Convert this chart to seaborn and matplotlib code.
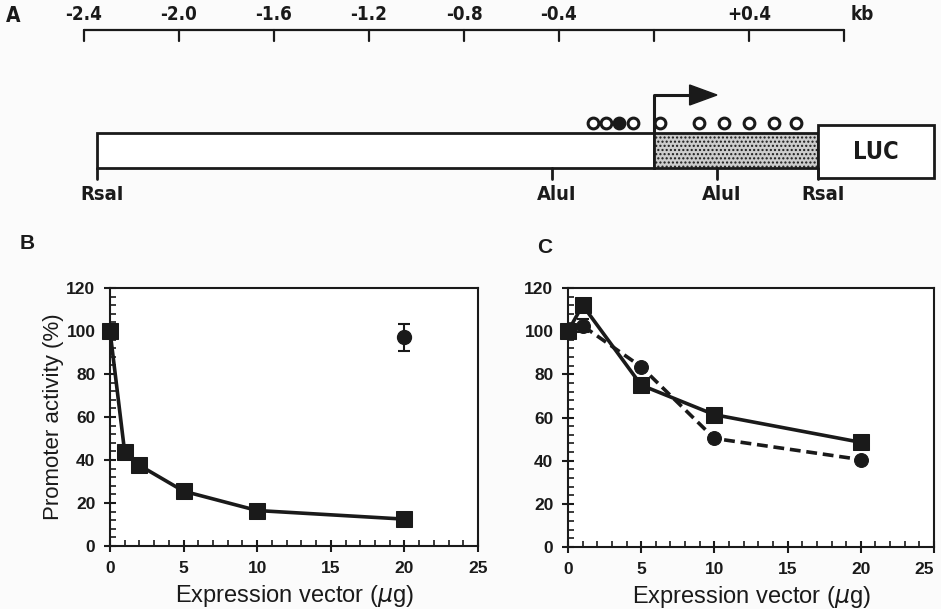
import numpy as np
import pandas as pd
import matplotlib
matplotlib.use("Agg")
import matplotlib.pyplot as plt
import seaborn as sns
from matplotlib.ticker import MultipleLocator

# ---- panel A: construct map (positions in kb relative to start site)
scale_ticks = [-2.4, -2.0, -1.6, -1.2, -0.8, -0.4, 0.0, 0.4, 0.8]
scale_labels = ["-2.4", "-2.0", "-1.6", "-1.2", "-0.8", "-0.4", "", "+0.4", ""]
construct_start = -2.345
transcribed_end = 0.69
luc_end = 1.18
site_pos = [-2.345, -0.43, 0.265, 0.69]
site_names = ["RsaI", "AluI", "AluI", "RsaI"]
open_circles = [-0.257, -0.202, -0.088, 0.025, 0.19, 0.295, 0.40, 0.505, 0.60]
filled_circles = [-0.147]

# ---- panel B
b_dose = [0, 1, 2, 5, 10, 20]
b_activity = [100, 43.5, 37.5, 25.5, 16.5, 12.5]
b_ctrl_dose = [20]
b_ctrl_activity = [97]
b_ctrl_err = [6.3]

# ---- panel C
c_dose = [0, 1, 5, 10, 20]
c_squares = [100, 112, 75, 61.3, 48.5]
c_circles = [100, 102.5, 83.5, 50.3, 40.5]
c_circle_err = [0, 3, 0, 0, 0]

x_ticks = [0, 5, 10, 15, 20, 25]
y_ticks = [0, 20, 40, 60, 80, 100, 120]

W, H = 941, 609
sns.set_theme(style="ticks")
plt.rcParams['font.family'] = ['Liberation Sans', 'DejaVu Sans']
fig = plt.figure(figsize=(W / 100, H / 100), dpi=100)
fig.patch.set_facecolor("#fbfbfb")


def rect(l, t, r, b):
    return [l / W, 1 - b / H, (r - l) / W, (b - t) / H]


narrow = dict(family=['DejaVu Sans', 'Liberation Sans'], stretch="condensed",
              fontweight="bold")
ink = "#1a1a1a"

# panel A
ax_a = fig.add_axes([0, 1 - 215 / H, 1, 215 / H])
ax_a.set_xlim(-654 / 237.5, 287 / 237.5)
ax_a.set_ylim(215, 0)
ax_a.axis("off")
ax_a.plot([scale_ticks[0], scale_ticks[-1]], [30, 30], color=ink, lw=1.6)
for t, lab in zip(scale_ticks, scale_labels):
    ax_a.plot([t, t], [30, 41], color=ink, lw=1.6)
    if lab:
        ax_a.text(t, 15, lab, ha="center", va="center", fontsize=13.5,
                  color=ink, **narrow)
ax_a.text(scale_ticks[-1] + 0.03, 15, "kb", ha="left", va="center", fontsize=13.5,
          color=ink, **narrow)
ax_a.text(-2.70, 16, "A", ha="center", va="center", fontsize=15,
          color=ink, **narrow)

ax_a.add_patch(plt.Rectangle((construct_start, 133), 0 - construct_start, 35,
                             facecolor="white", edgecolor=ink, lw=2))
ax_a.add_patch(plt.Rectangle((0, 133), transcribed_end, 35,
                             facecolor="#cccccc", edgecolor=ink, lw=2, hatch="...."))
ax_a.add_patch(plt.Rectangle((transcribed_end, 125), luc_end - transcribed_end, 53,
                             facecolor="white", edgecolor=ink, lw=2))
ax_a.text((transcribed_end + luc_end) / 2, 152, "LUC", ha="center", va="center",
          fontsize=17, color=ink, **narrow)

# start site arrow
ax_a.plot([0, 0, 0.16], [133, 95, 95], color=ink, lw=2.2)
ax_a.fill([0.15, 0.15, 0.265], [85, 105, 95], color=ink)

ax_a.scatter(open_circles, [123] * len(open_circles), s=60, facecolor="white",
             edgecolor=ink, linewidths=2.2, zorder=3)
ax_a.scatter(filled_circles, [123] * len(filled_circles), s=60, facecolor=ink,
             edgecolor=ink, linewidths=2.2, zorder=4)

for p, name in zip(site_pos, site_names):
    ax_a.plot([p, p], [168, 179], color=ink, lw=2)
    ax_a.text(p + 0.02, 195, name, ha="center", va="center", fontsize=14.5,
              color=ink, **narrow)


def style_axis(ax):
    ax.set_xlim(0, 25)
    ax.set_ylim(0, 120)
    ax.set_xticks(x_ticks)
    ax.set_xticklabels([str(v) for v in x_ticks])
    ax.set_yticks(y_ticks)
    ax.set_yticklabels([str(v) for v in y_ticks])
    ax.xaxis.set_minor_locator(MultipleLocator(1))
    ax.yaxis.set_minor_locator(MultipleLocator(4))
    ax.tick_params(which="major", direction="inout", length=9, width=1.5,
                   labelsize=12.5, colors=ink, pad=6)
    ax.tick_params(which="minor", direction="in", length=4, width=1.2, colors=ink)
    for lab in ax.get_xticklabels() + ax.get_yticklabels():
        lab.set_fontweight("bold")
    for s in ax.spines.values():
        s.set_linewidth(1.5)
        s.set_color(ink)
    ax.set_facecolor("white")
    ax.set_xlabel("Expression vector ($\\mu$g)", fontsize=17, color=ink, labelpad=5)


# panel B
ax_b = fig.add_axes(rect(110, 288, 478, 546))
df_b = pd.DataFrame({"dose": b_dose, "activity": b_activity})
sns.lineplot(data=df_b, x="dose", y="activity", ax=ax_b, color=ink, lw=2.6,
             marker="s", markersize=11, markeredgecolor=ink, clip_on=False)
ax_b.errorbar(b_ctrl_dose, b_ctrl_activity, yerr=b_ctrl_err, fmt="o", color=ink,
              markersize=10, capsize=4, elinewidth=1.5, capthick=1.5)
style_axis(ax_b)
ax_b.set_ylabel("Promoter activity (%)", fontsize=16, color=ink, labelpad=2)
fig.text(20 / W, 1 - 243 / H, "B", fontsize=15, fontweight="bold", color=ink,
         va="center")

# panel C
ax_c = fig.add_axes(rect(568, 288, 934, 547))
df_c = pd.DataFrame({"dose": c_dose, "sq": c_squares, "ci": c_circles})
ax_c.errorbar(c_dose, c_circles, yerr=c_circle_err, fmt="none", color=ink,
              capsize=4, elinewidth=1.5, capthick=1.5)
sns.lineplot(data=df_c, x="dose", y="ci", ax=ax_c, color=ink, lw=2.6,
             marker="o", markersize=10, markeredgecolor=ink, dashes=False,
             linestyle=(0, (3, 1.6)), clip_on=False)
sns.lineplot(data=df_c, x="dose", y="sq", ax=ax_c, color=ink, lw=2.6,
             marker="s", markersize=11, markeredgecolor=ink, clip_on=False)
style_axis(ax_c)
ax_c.set_ylabel("")
ax_c.get_xticklabels()[-1].set_horizontalalignment("right")
fig.text(537 / W, 1 - 247 / H, "C", fontsize=15, fontweight="bold", color=ink,
         va="center")

fig.savefig("out.png", dpi=100, facecolor=fig.get_facecolor())
